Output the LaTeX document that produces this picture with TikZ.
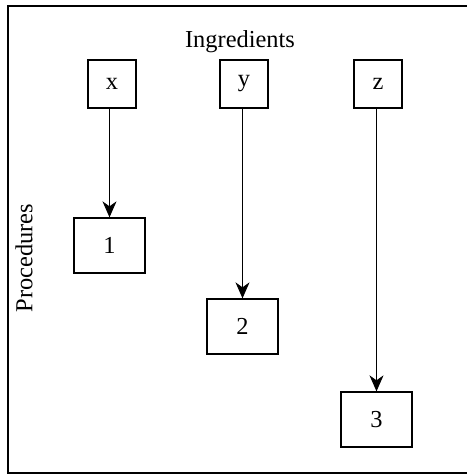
\documentclass[tikz,border=0pt]{standalone}
\usepackage{fontspec}
\setmainfont{Liberation Serif}
\usetikzlibrary{arrows.meta}
\begin{document}
\begin{tikzpicture}[x=1bp,y=-1bp,
  every node/.style={font=\fontsize{24.5}{28}\selectfont},
  ingbox/.style={draw,line width=1.3bp,minimum width=48bp,minimum height=48bp,inner sep=0pt},
  procbox/.style={draw,line width=1.3bp,minimum width=71bp,minimum height=55bp,inner sep=0pt},
  flow/.style={line width=1bp,draw=black,-{Stealth[length=16bp,width=14bp,inset=5bp]}}]
  \useasboundingbox (0,0) rectangle (467,474);
  \clip (0,0) rectangle (467,474);
  % outer frame
  \draw[line width=1.4bp] (8,6) rectangle (475,473);
  % labels
  \node (ing) at (240,42) {Ingredients};
  \node[rotate=90] (proc) at (24,258) {Procedures};
  % ingredients
  \node[ingbox] (x) at (112,84) {x};
  \node[ingbox] (y) at (244,84) {y};
  \node[ingbox] (z) at (378,84) {z};
  % procedures
  \node[procbox] (p1) at (109.5,245.5) {1};
  \node[procbox] (p2) at (242.5,326.5) {2};
  \node[procbox] (p3) at (376.5,419.5) {3};
  % connectors
  \draw[flow] (x.south -| p1.north) -- (p1.north);
  \draw[flow] (y.south -| p2.north) -- (p2.north);
  \draw[flow] (z.south -| p3.north) -- (p3.north);
\end{tikzpicture}
\end{document}
